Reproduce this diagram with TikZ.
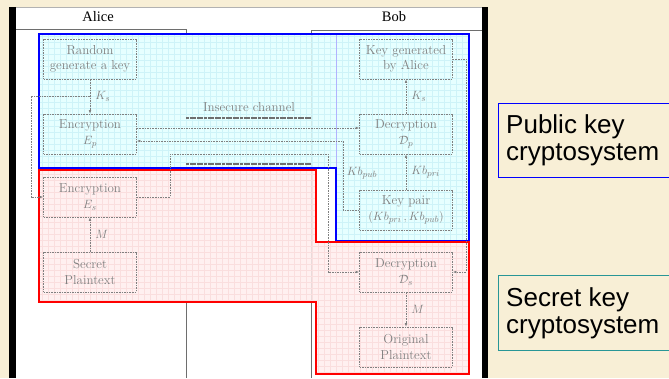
\documentclass[tikz,border=0pt]{standalone}
\usepackage{fontspec}
\newfontfamily\sansfont{Liberation Sans}
\newfontfamily\timesfont{Liberation Serif}
\usetikzlibrary{arrows.meta}
\definecolor{parch}{RGB}{248,239,214}
\definecolor{cyanfill}{RGB}{226,255,255}
\definecolor{cyangrid}{RGB}{206,243,248}
\definecolor{pinkfill}{RGB}{255,238,238}
\definecolor{pinkgrid}{RGB}{250,222,222}
\definecolor{tealb}{RGB}{40,150,150}
\definecolor{linegray}{RGB}{110,110,110}
\definecolor{txtgray}{RGB}{128,128,128}
\begin{document}
\begin{tikzpicture}[x=1pt,y=-1pt,
  box/.style={draw=txtgray, dash pattern=on 1.6pt off 1pt, line width=0.6pt,
    minimum width=93pt, minimum height=40pt, align=center, text=txtgray,
    font=\fontsize{13}{15.5}\selectfont, inner sep=0pt},
  conn/.style={draw=txtgray, dash pattern=on 1.6pt off 1pt, line width=0.6pt},
  arr/.style={conn, -{Latex[length=3.5pt,width=2.6pt]}},
  lbl/.style={text=txtgray, font=\fontsize{13}{15}\selectfont, inner sep=1pt},
  chan/.style={draw=linegray, line width=1.6pt, dash pattern=on 3pt off 0.6pt},
  head/.style={font=\timesfont\fontsize{14.5}{15}\selectfont},
  side/.style={font=\sansfont\fontsize{26}{27}\selectfont, align=left, anchor=north west, inner sep=0pt},
]
\useasboundingbox (0,0) rectangle (669,378);
% background and panel
\fill[parch] (0,0) rectangle (669,378);
\fill[white] (16,7) rectangle (482,378);
\fill[black] (9,7) rectangle (16,378);
\fill[black] (482,7) rectangle (488,378);
\draw[gray!60, line width=0.4pt] (16,7) -- (482,7);
% headers
\node[head] (alice) at (98,17) {Alice};
\node[head] (bob) at (394,17) {Bob};
\draw[linegray, line width=0.8pt] (16,29) -- (186,29) -- (186,378);
\draw[linegray, line width=0.8pt] (482,30) -- (311,30) -- (311,378);
% public key region
\fill[cyanfill, fill opacity=0.85] (39,34) -- (469,34) -- (469,241) -- (336,241) -- (336,168) -- (39,168) -- cycle;
\begin{scope}
  \clip (39,34) -- (469,34) -- (469,241) -- (336,241) -- (336,168) -- (39,168) -- cycle;
  \draw[cyangrid, line width=0.35pt, step=6pt] (30,30) grid (474,246);
\end{scope}
% secret key region
\fill[pinkfill, fill opacity=0.85] (39,170) -- (316,170) -- (316,242) -- (469,242) -- (469,374) -- (316,374) -- (316,302) -- (39,302) -- cycle;
\begin{scope}
  \clip (39,170) -- (316,170) -- (316,242) -- (469,242) -- (469,374) -- (316,374) -- (316,302) -- (39,302) -- cycle;
  \draw[pinkgrid, line width=0.35pt, step=6pt] (30,165) grid (474,378);
\end{scope}
\draw[blue!30, line width=0.6pt] (336,34) -- (336,168);
\draw[blue, line width=1.3pt] (39,34) -- (469,34) -- (469,241) -- (336,241) -- (336,168) -- (39,168) -- cycle;
\draw[red, line width=1.3pt] (39,170) -- (316,170) -- (316,242) -- (469,242) -- (469,374) -- (316,374) -- (316,302) -- (39,302) -- cycle;
% channel
\node[lbl] (insec) at (249,107) {Insecure channel};
\draw[chan] (186,118) -- (311,118);
\draw[chan] (186,164) -- (311,164);
% boxes
\node[box] (rand) at (90,59) {Random\\generate a key};
\node[box] (encp) at (90,134) {Encryption\\$E_p$};
\node[box] (encs) at (90,197) {Encryption\\$E_s$};
\node[box] (secret) at (90,272) {Secret\\Plaintext};
\node[box] (keygen) at (406,59) {Key generated\\by Alice};
\node[box] (decp) at (406,134) {Decryption\\$\mathcal{D}_p$};
\node[box] (keypair) at (406,210) {Key pair\\$(Kb_{pri}\,,Kb_{pub})$};
\node[box] (decs) at (406,272) {Decryption\\$\mathcal{D}_s$};
\node[box] (orig) at (406,347) {Original\\Plaintext};
% connectors
\draw[arr] (rand) -- (encp) node[lbl, midway, right=4pt] {$K_s$};
\coordinate (ksb) at (90,96);
\coordinate (ksl) at (31,96);
\draw[arr] (ksb) -- (ksl) |- (encs.west);
\draw[arr] ([yshift=6pt]encp.east) -- ([yshift=6pt]decp.west);
\coordinate (kpb) at (343,141);
\draw[arr] (keypair.west) -| (kpb) -- ([yshift=-7pt]encp.east);
\node[lbl] (kbpub) at (362,173) {$Kb_{pub}$};
\draw[arr] (keypair) -- (decp) node[lbl, midway, right=4pt] {$Kb_{pri}$};
\draw[arr] (decp) -- (keygen) node[lbl, midway, right=4pt] {$K_s$};
\coordinate (kr) at (466,272);
\draw[arr] (keygen.east) -| (kr) -- (decs.east);
\coordinate (esu) at (170,154);
\coordinate (cr) at (328,272);
\draw[arr] (encs.east) -| (esu) -| (cr) -- (decs.west);
\draw[arr] (secret) -- (encs) node[lbl, midway, right=4pt] {$M$};
\draw[arr] (decs) -- (orig) node[lbl, midway, right=4pt] {$M$};
% side legends
\draw[blue, line width=0.9pt] (498,103) rectangle (676,177);
\node[side] (pubtxt) at (506,114.5) {Public key\\cryptosystem};
\draw[tealb, line width=0.9pt] (498,275) rectangle (676,350);
\node[side] (sectxt) at (506,287) {Secret key\\cryptosystem};
\end{tikzpicture}
\end{document}
